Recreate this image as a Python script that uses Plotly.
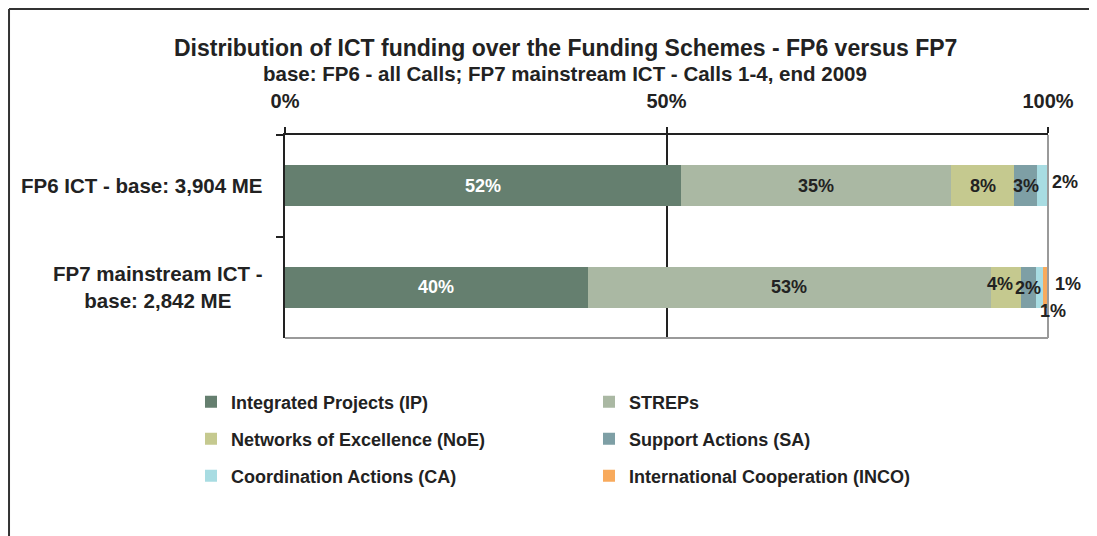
import plotly.graph_objects as go

categories = ["FP6 ICT - base: 3,904 ME", "FP7 mainstream ICT -<br>base: 2,842 ME"]
series_names = ["Integrated Projects (IP)", "STREPs", "Networks of Excellence (NoE)",
                "Support Actions (SA)", "Coordination Actions (CA)", "International Cooperation (INCO)"]
# shares (fraction of total) per series: [FP6, FP7]
ip_vals = [0.519, 0.397]
streps_vals = [0.354, 0.528]
noe_vals = [0.083, 0.039]
sa_vals = [0.030, 0.020]
ca_vals = [0.014, 0.010]
inco_vals = [0.000, 0.007]
# labels shown on the chart
ip_labels = ["52%", "40%"]
streps_labels = ["35%", "53%"]
noe_labels = ["8%", "4%"]
sa_labels = ["3%", "2%"]
ca_labels = ["2%", "1%"]
inco_labels = ["", "1%"]
x_tickvals = [0, 0.5, 1.0]
x_ticktext = ["0%", "50%", "100%"]

values = [ip_vals, streps_vals, noe_vals, sa_vals, ca_vals, inco_vals]
labels = [ip_labels, streps_labels, noe_labels, sa_labels, ca_labels, inco_labels]
colors = ["#657f6f", "#aab8a3", "#c5c98f", "#7e9fa5", "#a8dce2", "#f8aa5c"]
label_colors = ["#ffffff", "#222222", "#222222", "#222222", "#222222", "#222222"]
legend_ids = ["legend", "legend", "legend2", "legend2", "legend3", "legend3"]

FONT = "Liberation Sans, Arial, sans-serif"

fig = go.Figure()
for name, vals, col, lg in zip(series_names, values, colors, legend_ids):
    fig.add_trace(go.Bar(
        y=categories, x=vals, name=name, orientation="h",
        marker=dict(color=col, line=dict(width=0)),
        legend=lg, hoverinfo="x+name",
    ))

# label placement tweaks (style only): (series index, category index) -> (xanchor, use_end, xshift, yshift)
tweaks = {
    (4, 0): ("left", True, 2, 4),
    (2, 1): ("center", False, -6, 3),
    (3, 1): ("center", False, 0, -1),
    (4, 1): ("center", False, 13, -24),
    (5, 1): ("center", False, 22, 3),
}

annotations = []
for ci, cat in enumerate(categories):
    start = 0.0
    for si in range(len(values)):
        v = values[si][ci]
        txt = labels[si][ci]
        if txt:
            xa, use_end, xs, ys = tweaks.get((si, ci), ("center", False, 0, 0))
            xpos = start + v if use_end else start + v / 2
            annotations.append(dict(
                x=xpos, y=cat, xref="x", yref="y", text=txt, showarrow=False,
                xanchor=xa, yanchor="middle", xshift=xs, yshift=ys,
                font=dict(family=FONT, size=18, color=label_colors[si], weight="bold"),
            ))
        start += v

# category labels (centered multi-line)
for cat in categories:
    annotations.append(dict(
        x=0, y=cat, xref="paper", yref="y", text=cat, showarrow=False,
        xanchor="right", yanchor="middle", xshift=-20, align="center",
        font=dict(family=FONT, size=20.5, color="#222222", weight="bold"),
    ))

# title and subtitle
annotations.append(dict(
    x=0.367, y=1.0, xref="paper", yref="paper", yanchor="middle", yshift=87,
    text="Distribution of ICT funding over the Funding Schemes - FP6 versus FP7",
    showarrow=False, font=dict(family=FONT, size=23, color="#222222", weight="bold"),
))
annotations.append(dict(
    x=0.367, y=1.0, xref="paper", yref="paper", yanchor="middle", yshift=62,
    text="base: FP6 - all Calls; FP7 mainstream ICT - Calls 1-4, end 2009",
    showarrow=False, font=dict(family=FONT, size=20.5, color="#222222", weight="bold"),
))

shapes = [
    # outer chart frame (top and left edges visible)
    dict(type="line", xref="paper", yref="paper", x0=-0.3617, x1=1.2, y0=1.6207, y1=1.6207,
         line=dict(color="#333333", width=2), layer="below"),
    dict(type="line", xref="paper", yref="paper", x0=-0.3617, x1=-0.3617, y0=-1.2, y1=1.6207,
         line=dict(color="#333333", width=2), layer="below"),
    # grey right and bottom edges of plot area
    dict(type="line", xref="paper", yref="paper", x0=1, x1=1, y0=0, y1=1,
         line=dict(color="#9a9a9a", width=2)),
    dict(type="line", xref="paper", yref="paper", x0=0, x1=1, y0=0, y1=0,
         line=dict(color="#9a9a9a", width=2)),
]

legend_common = dict(orientation="h", entrywidth=353, entrywidthmode="pixels",
                     traceorder="normal",
                     font=dict(family=FONT, size=18, color="#222222", weight="bold"),
                     bgcolor="rgba(0,0,0,0)", xanchor="left", yanchor="middle",
                     itemclick=False, itemdoubleclick=False)

fig.update_layout(
    width=1089, height=528,
    margin=dict(l=277, r=49, t=127, b=198),
    paper_bgcolor="white", plot_bgcolor="white",
    barmode="stack", bargap=0.6,
    showlegend=True,
    font=dict(family=FONT, color="#222222"),
    xaxis=dict(
        side="top", range=[0, 1.0], tickvals=x_tickvals, ticktext=x_ticktext,
        tickfont=dict(family=FONT, size=20, color="#222222", weight="bold"),
        showgrid=True, gridcolor="#222222", gridwidth=2,
        showline=True, linecolor="#222222", linewidth=2,
        ticks="outside", ticklen=6, tickcolor="#222222", tickwidth=2,
        ticklabelstandoff=11, zeroline=False, fixedrange=True,
    ),
    yaxis=dict(
        autorange="reversed", showticklabels=False,
        showline=True, linecolor="#222222", linewidth=2,
        ticks="outside", ticklen=7, tickcolor="#222222", tickwidth=2,
        tickson="boundaries", showgrid=False, fixedrange=True,
    ),
    annotations=annotations,
    shapes=shapes,
    legend=dict(x=-0.1232, y=-0.315, **legend_common),
    legend2=dict(x=-0.1232, y=-0.4975, **legend_common),
    legend3=dict(x=-0.1232, y=-0.680, **legend_common),
)

fig.write_html("out.html")
